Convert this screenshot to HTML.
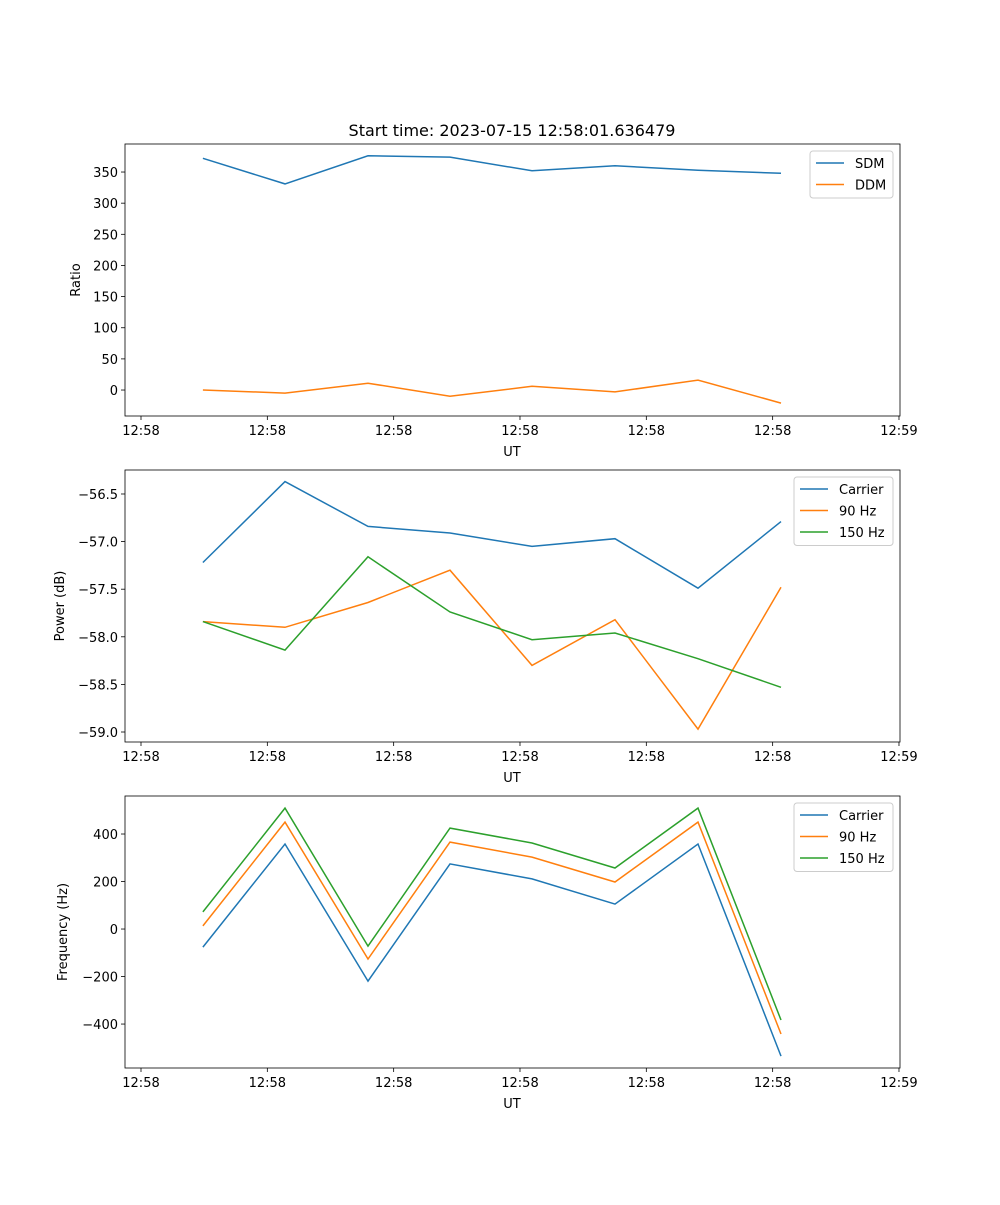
<!DOCTYPE html>
<html><head><meta charset="utf-8"><style>
body{margin:0;background:#fff}
svg{font-family:"DejaVu Sans","Liberation Sans",sans-serif}
</style></head><body>
<svg id="fig" width="1000" height="1200" viewBox="0 0 1000 1200" xmlns="http://www.w3.org/2000/svg">
<rect width="1000" height="1200" fill="#fff"/>
<text x="512" y="136" font-size="16" text-anchor="middle">Start time: 2023-07-15 12:58:01.636479</text>
</svg>
<script>
const times=[0.49,1.14,1.797,2.446,3.095,3.752,4.409,5.066];
const xTickVals=[0,1,2,3,4,5,6];
const xTickLabels=["12:58","12:58","12:58","12:58","12:58","12:58","12:59"];
const sdm=[372,331,376,374,352,360,353,348];
const ddm=[0,-5,11,-10,6,-3,16,-21];
const ratioTicks=[0,50,100,150,200,250,300,350];
const pwrCarrier=[-57.22,-56.37,-56.84,-56.91,-57.05,-56.97,-57.49,-56.79];
const pwr90=[-57.84,-57.90,-57.64,-57.30,-58.30,-57.82,-58.97,-57.48];
const pwr150=[-57.84,-58.14,-57.16,-57.74,-58.03,-57.96,-58.23,-58.53];
const pwrTicks=[-59.0,-58.5,-58.0,-57.5,-57.0,-56.5];
const frqCarrier=[-76,358,-219,274,211,105,358,-535];
const frq90=[13,450,-126,366,303,198,450,-442];
const frq150=[72,509,-72,425,362,257,509,-383];
const frqTicks=[-400,-200,0,200,400];

const NS="http://www.w3.org/2000/svg";
const svg=document.getElementById('fig');
const L=125,R=900;
function xs(t){return 141+t*126.33;}
function mk(tag,attrs,parent){const e=document.createElementNS(NS,tag);for(const k in attrs)e.setAttribute(k,attrs[k]);(parent||svg).appendChild(e);return e;}
const C=["#1f77b4","#ff7f0e","#2ca02c"];
function panel(name,top,bot,dmin,dmax,ticks,fmt,ylabel,series,legendX,legendW){
  const g=mk('g',{});
  
  
  const ys=v=>bot-(v-dmin)/(dmax-dmin)*(bot-top);
  series.forEach((s,i)=>{
    const pts=s.vals.map((v,j)=>xs(times[j]).toFixed(1)+','+ys(v).toFixed(1)).join(' ');
    const p=mk('polyline',{points:pts,fill:'none',stroke:C[i],'stroke-width':1.5},g);
    
    
  });
  const fr=mk('rect',{x:L,y:top,width:R-L,height:bot-top,fill:'none',stroke:'#000','stroke-width':0.8},g);
  
  
  xTickVals.forEach((t,i)=>{
    const x=xs(t);
    mk('line',{x1:x,x2:x,y1:bot,y2:bot+4,stroke:'#000','stroke-width':0.8},g);
    const tx=mk('text',{x:x,y:bot+19,'font-size':13,'text-anchor':'middle'},g);
    tx.textContent=xTickLabels[i];
    
    
  });
  const xl=mk('text',{x:512,y:bot+40,'font-size':13,'text-anchor':'middle'},g);
  xl.textContent='UT';
  
  
  ticks.forEach(v=>{
    const y=ys(v);
    mk('line',{x1:L-4,x2:L,y1:y,y2:y,stroke:'#000','stroke-width':0.8},g);
    const tx=mk('text',{x:L-7,y:y+5,'font-size':13,'text-anchor':'end'},g);
    tx.textContent=fmt(v);
    
    
  });
  const yl=mk('text',{transform:`translate(${ylabel.x},${(top+bot)/2}) rotate(-90)`,'font-size':13,'text-anchor':'middle'},g);
  yl.textContent=ylabel.t;
  
  
  const lg=mk('g',{},g);
  
  
  const lh=series.length*21.5+4;
  mk('rect',{x:legendX,y:top+7,width:legendW,height:lh,rx:3,fill:'#fff',stroke:'#ccc','stroke-width':1},lg);
  series.forEach((s,i)=>{
    const y=top+19+i*21.5;
    mk('line',{x1:legendX+6,x2:legendX+34,y1:y,y2:y,stroke:C[i],'stroke-width':1.5},lg);
    const t=mk('text',{x:legendX+45,y:y+5,'font-size':13},lg);
    t.textContent=s.label;
    
    
  });
}
panel('ratio',144,416,-41.7,395,ratioTicks,v=>String(v),{x:80,t:'Ratio'},
 [{key:'sdm',label:'SDM',vals:sdm},{key:'ddm',label:'DDM',vals:ddm}],810,83);
panel('power',470,742,-59.105,-56.248,pwrTicks,v=>(v<0?'\u2212':'')+Math.abs(v).toFixed(1),{x:64,t:'Power (dB)'},
 [{key:'carrier',label:'Carrier',vals:pwrCarrier},{key:'90hz',label:'90 Hz',vals:pwr90},{key:'150hz',label:'150 Hz',vals:pwr150}],794,99);
panel('frequency',796,1068,-585,560,frqTicks,v=>(v<0?'\u2212':'')+Math.abs(v),{x:67,t:'Frequency (Hz)'},
 [{key:'carrier',label:'Carrier',vals:frqCarrier},{key:'90hz',label:'90 Hz',vals:frq90},{key:'150hz',label:'150 Hz',vals:frq150}],794,99);
</script>
</body></html>
